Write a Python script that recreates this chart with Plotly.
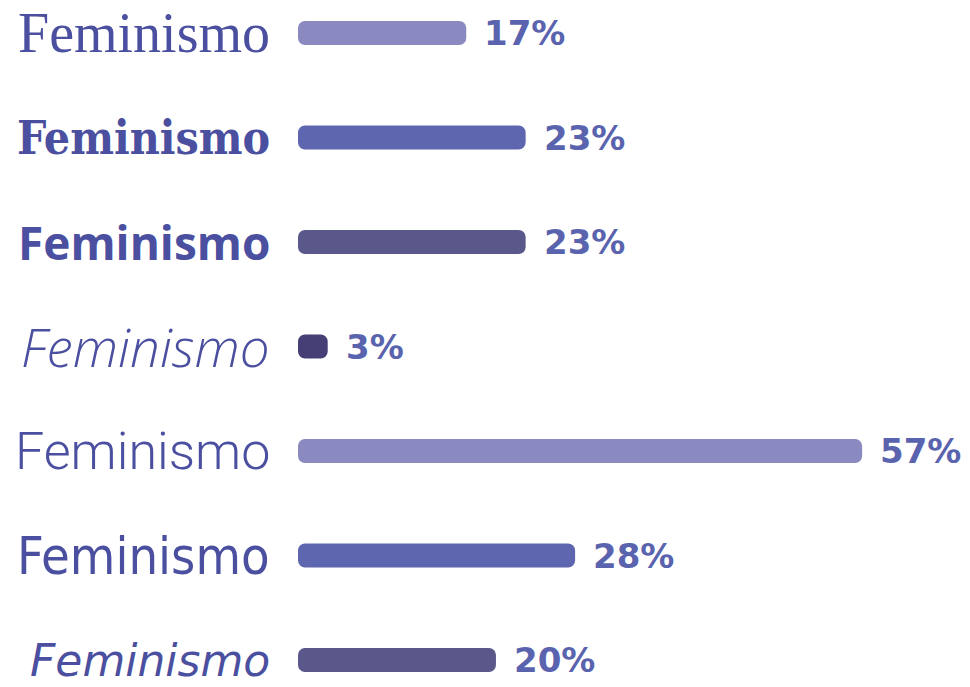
import plotly.graph_objects as go

labels = ["Feminismo"] * 7
values = [17, 23, 23, 3, 57, 28, 20]
value_text = ["17%", "23%", "23%", "3%", "57%", "28%", "20%"]
bar_colors = ["#8a89c0", "#5d66ae", "#5a578b", "#453f75", "#8a89c0", "#5d66ae", "#5a578b"]
label_fonts = [
    dict(family="Liberation Serif", size=56, weight=400, style="normal"),
    dict(family="DejaVu Serif Condensed", size=46, weight=700, style="normal"),
    dict(family="Open Sans", size=46, weight=700, style="normal"),
    dict(family="Open Sans", size=53, weight=300, style="italic"),
    dict(family="Roboto", size=52, weight=300, style="normal"),
    dict(family="DejaVu Sans Condensed", size=52, weight=400, style="normal"),
    dict(family="DejaVu Sans", size=44, weight=400, style="italic"),
]

label_color = "#4b4fa0"
pct_color = "#5a63ad"

idx = list(range(len(values)))
zeros = [0] * len(values)

fig = go.Figure(
    go.Bar(
        x=values, base=zeros, y=idx, orientation="h", width=0.23,
        hoverinfo="skip", marker=dict(color=bar_colors, line=dict(width=0)),
    )
)

annotations = []
for i, (lab, f) in enumerate(zip(labels, label_fonts)):
    annotations.append(dict(
        text=lab, x=0, xref="paper", y=i, yref="y",
        xanchor="right", yanchor="middle", xshift=-26, showarrow=False,
        font=dict(family=f["family"], size=f["size"], weight=f["weight"],
                  style=f["style"], color=label_color),
    ))
for i, (v, t) in enumerate(zip(values, value_text)):
    annotations.append(dict(
        text=t, x=v, xref="x", y=i, yref="y",
        xanchor="left", yanchor="middle", xshift=16, showarrow=False,
        font=dict(family="DejaVu Sans", size=34, weight=700, color=pct_color),
    ))

fig.update_layout(
    width=970, height=687,
    margin=dict(l=298, r=0, t=0, b=0),
    paper_bgcolor="white", plot_bgcolor="white",
    barcornerradius=7,
    showlegend=False,
    annotations=annotations,
    xaxis=dict(range=[0, 67.9], visible=False, fixedrange=True),
    yaxis=dict(range=[6.258, -0.316], visible=False, fixedrange=True),
)

fig.write_html("out.html")
